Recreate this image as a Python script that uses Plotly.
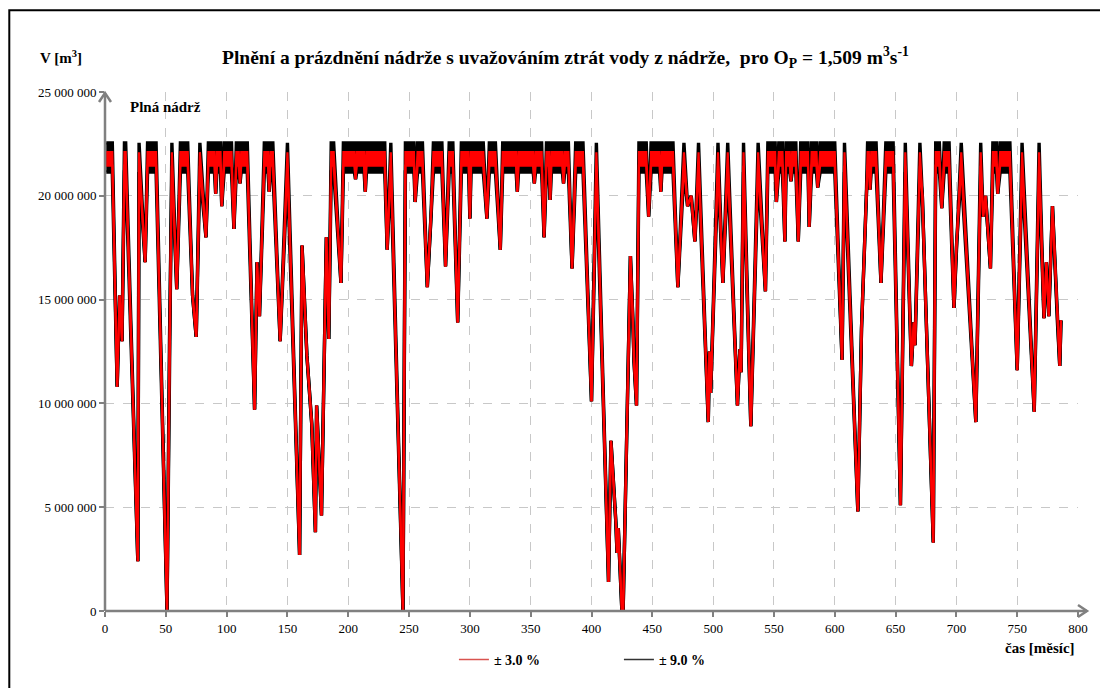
import plotly.graph_objects as go

FULL = 22_600_000  # "Plná nádrž" – reservoir full (seasonal band is drawn there)

# band of the ensemble while the reservoir is full [low, high] (m3)
full_band_9 = [21_150_000, 22_550_000]
full_band_3 = [21_450_000, 22_100_000]

# month, volume (m3); FULL = full reservoir
months = [1, 6, 10, 12, 14, 16, 17, 27, 28, 33, 35, 42, 51, 53, 55, 59, 62, 68, 72, 75, 78, 83, 85, 90, 91, 92,
          95, 96, 98, 104, 106, 108, 110, 111, 112, 117, 123, 125, 127, 131, 134, 135, 136, 138, 144, 150,
          160, 162, 166, 170, 173, 174, 178, 182, 184, 186, 188, 194, 196, 205, 206, 207, 213, 214, 215,
          230, 232, 235, 245, 247, 254, 255, 257, 261, 265, 268, 270, 277, 280, 283, 286, 290, 293, 299,
          300, 301, 311, 314, 316, 321, 325, 327, 338, 339, 340, 352, 353, 354, 359, 361, 363, 365, 366,
          367, 376, 377, 378, 381, 384, 387, 393, 400, 404, 414, 416, 420, 421, 422, 425, 426, 429, 432,
          434, 435, 437, 439, 445, 447, 449, 456, 457, 458, 467, 471, 476, 479, 482, 485, 488, 496, 497,
          498, 504, 508, 512, 520, 522, 523, 525, 531, 537, 543, 545, 551, 552, 554, 557, 559, 560, 563,
          564, 565, 568, 570, 572, 578, 579, 581, 585, 586, 588, 600, 606, 608, 619, 622, 626, 627, 628,
          629, 630, 634, 638, 642, 648, 654, 658, 663, 665, 666, 670, 672, 681, 683, 686, 688, 690, 694,
          698, 700, 704, 716, 720, 722, 724, 728, 730, 733, 734, 736, 744, 750, 754, 764, 768, 772, 774,
          776, 779, 783, 785, 786]

volume = [FULL, FULL, 10_800_000, 15_200_000, 13_000_000, FULL, FULL, 2_400_000, FULL, 16_800_000, FULL, FULL,
          0, 13_000_000, FULL, 15_500_000, FULL, FULL, 15_200_000, 13_200_000, FULL, 18_000_000, FULL, FULL,
          20_100_000, FULL,
          FULL, 19_500_000, FULL, FULL, 18_400_000, FULL, FULL, 20_600_000, FULL, FULL, 9_700_000, 16_800_000,
          14_200_000, FULL, FULL, 20_200_000, FULL, FULL, 13_000_000, FULL,
          2_700_000, 17_600_000, 12_300_000, 9_000_000, 3_800_000, 9_900_000, 4_600_000, 18_000_000,
          13_100_000, FULL, FULL, 15_800_000, FULL, FULL, 20_800_000, FULL, FULL, 20_200_000, FULL,
          FULL, 17_400_000, FULL, 0, FULL, FULL, 19_700_000, FULL, FULL, 15_600_000, 19_000_000, FULL, FULL,
          16_600_000, FULL, FULL, 13_900_000, FULL, FULL,
          18_900_000, FULL, FULL, 18_900_000, FULL, FULL, 17_400_000, FULL, FULL, 20_200_000, FULL, FULL,
          20_600_000, FULL, FULL, 18_000_000, FULL, FULL, 19_800_000,
          FULL, FULL, 20_600_000, FULL, FULL, 16_500_000, FULL, FULL, 10_100_000, FULL, 1_400_000, 8_200_000,
          4_300_000, 2_800_000, 4_000_000, 0, 0, 9_100_000, 17_100_000,
          14_000_000, 12_000_000, 9_900_000, FULL, FULL, 19_000_000, FULL, FULL, 20_200_000, FULL, FULL,
          15_600_000, FULL, 19_500_000, 20_000_000, 17_800_000, FULL, 9_100_000, 12_500_000,
          10_500_000, FULL, 15_800_000, FULL, 9_900_000, 12_600_000, 11_500_000, FULL, 8_900_000, FULL,
          15_400_000, FULL, FULL, 19_700_000, FULL, FULL, 17_800_000, FULL, FULL,
          20_700_000, FULL, FULL, 17_800_000, FULL, FULL, 18_500_000, FULL, FULL, 20_400_000, FULL, FULL,
          12_100_000, FULL, 4_800_000, 13_600_000, 20_000_000, FULL, FULL,
          20_300_000, FULL, FULL, 15_800_000, FULL, FULL, 5_100_000, FULL, 11_800_000, 13_900_000, 12_800_000,
          FULL, 20_000_000, 3_300_000, FULL, FULL, 19_400_000, FULL, FULL,
          14_600_000, 17_500_000, FULL, 9_100_000, FULL, 19_000_000, 20_000_000, 16_500_000, FULL, FULL,
          20_100_000, FULL, FULL, 11_600_000, FULL, 9_600_000, FULL, 14_100_000, 16_800_000,
          14_200_000, 19_500_000, 14_000_000, 11_800_000, 14_000_000]

x_ticks = list(range(0, 801, 50))
x_tick_labels = [str(v) for v in x_ticks]
y_ticks = [0, 5_000_000, 10_000_000, 15_000_000, 20_000_000, 25_000_000]
y_tick_labels = ["0", "5 000 000", "10 000 000", "15 000 000", "20 000 000", "25 000 000"]

series_names = ["± 3.0 %", "± 9.0 %"]


def envelope(band):
    lo = [band[0] if v >= FULL else v for v in volume]
    hi = [band[1] if v >= FULL else v for v in volume]
    return lo, hi


lo9, hi9 = envelope(full_band_9)
lo3, hi3 = envelope(full_band_3)

SERIF = "Liberation Serif"
fig = go.Figure()
# ±9 % ensemble (black)
fig.add_trace(go.Scatter(x=months, y=lo9, mode="lines", line=dict(color="#000000", width=3.4),
                         showlegend=False, hoverinfo="skip"))
fig.add_trace(go.Scatter(x=months, y=hi9, mode="lines", line=dict(color="#000000", width=3.4),
                         fill="tonexty", fillcolor="#000000", showlegend=False, hoverinfo="skip"))
# ±3 % ensemble (red)
fig.add_trace(go.Scatter(x=months, y=lo3, mode="lines", line=dict(color="#ff0000", width=2.2),
                         showlegend=False, hoverinfo="skip"))
fig.add_trace(go.Scatter(x=months, y=hi3, mode="lines", line=dict(color="#ff0000", width=2.2),
                         fill="tonexty", fillcolor="#ff0000", showlegend=False, hoverinfo="skip"))
# legend entries
fig.add_trace(go.Scatter(x=[None], y=[None], mode="lines", name=series_names[0],
                         line=dict(color="#d9534f", width=1.5)))
fig.add_trace(go.Scatter(x=[None], y=[None], mode="lines", name=series_names[1],
                         line=dict(color="#333333", width=1.5)))

L, R, T, B = 105, 1081, 92, 613
PW, PH = R - L, B - T


def px_x(p):
    return (p - L) / PW


def px_y(p):
    return (B - p) / PH


annotations = [
    dict(text="Plnění a prázdnění nádrže s uvažováním ztrát vody z nádrže,  pro O<sub>P</sub> = 1,509 m<sup>3</sup>s<sup>-1</sup>",
         x=px_x(567), y=px_y(57), xref="paper", yref="paper", showarrow=False,
         font=dict(family=SERIF, size=19.5, color="#000000", weight="bold"), xanchor="center", yanchor="middle"),
    dict(text="V [m<sup>3</sup>]", x=px_x(61), y=px_y(57), xref="paper", yref="paper", showarrow=False,
         font=dict(family=SERIF, size=15, color="#000000", weight="bold"), xanchor="center", yanchor="middle"),
    dict(text="Plná nádrž", x=px_x(128), y=px_y(107), xref="paper", yref="paper", showarrow=False,
         font=dict(family=SERIF, size=15, color="#000000", weight="bold"), xanchor="left", yanchor="middle"),
    dict(text="čas [měsíc]", x=px_x(1043), y=px_y(650), xref="paper", yref="paper", showarrow=False,
         font=dict(family=SERIF, size=15, color="#000000", weight="bold"), xanchor="center", yanchor="middle"),
]

AX = "#808080"
xa_end, ya_end = 1090, 93
shapes = [
    dict(type="rect", xref="paper", yref="paper", x0=px_x(9), x1=px_x(1110), y0=px_y(700), y1=px_y(10),
         line=dict(color="#000000", width=2), layer="above"),
    # x axis with chevron
    dict(type="line", xref="paper", yref="paper", x0=0, x1=px_x(xa_end), y0=0, y1=0,
         line=dict(color=AX, width=2.5), layer="above"),
    dict(type="path", xref="paper", yref="paper",
         path=f"M {px_x(xa_end - 9)},{px_y(B - 6)} L {px_x(xa_end)},{px_y(B)} L {px_x(xa_end - 9)},{px_y(B + 6)}",
         line=dict(color=AX, width=2.5), layer="above"),
    # y axis with chevron
    dict(type="line", xref="paper", yref="paper", x0=0, x1=0, y0=0, y1=px_y(ya_end),
         line=dict(color=AX, width=2.5), layer="above"),
    dict(type="path", xref="paper", yref="paper",
         path=f"M {px_x(L - 6)},{px_y(ya_end + 9)} L {px_x(L)},{px_y(ya_end)} L {px_x(L + 6)},{px_y(ya_end + 9)}",
         line=dict(color=AX, width=2.5), layer="above"),
]

fig.update_layout(
    width=1100, height=688,
    margin=dict(l=L, r=1100 - R, t=T, b=688 - B),
    paper_bgcolor="white", plot_bgcolor="white",
    font=dict(family=SERIF, size=13, color="#000000"),
    annotations=annotations,
    shapes=shapes,
    legend=dict(orientation="h", x=px_x(455), y=px_y(662), xanchor="left", yanchor="middle",
                traceorder="normal", entrywidth=120, entrywidthmode="pixels",
                font=dict(family=SERIF, size=14, color="#000000", weight="bold"), bgcolor="rgba(0,0,0,0)",
                itemwidth=30),
    showlegend=True,
)
fig.update_xaxes(range=[0, 800], tickvals=x_ticks, ticktext=x_tick_labels, showgrid=True,
                 gridcolor="#c8c8c8", griddash="dash", gridwidth=1, zeroline=False, showline=False,
                 ticks="outside", ticklen=5, tickcolor=AX, tickwidth=1.5,
                 tickfont=dict(family=SERIF, size=13, color="#000000"))
fig.update_yaxes(range=[0, 25_000_000], tickvals=y_ticks, ticktext=y_tick_labels, showgrid=True,
                 gridcolor="#c8c8c8", griddash="dash", gridwidth=1, zeroline=False, showline=False,
                 ticks="outside", ticklen=5, tickcolor=AX, tickwidth=1.5,
                 tickfont=dict(family=SERIF, size=13, color="#000000"))

fig.write_html("out.html")
